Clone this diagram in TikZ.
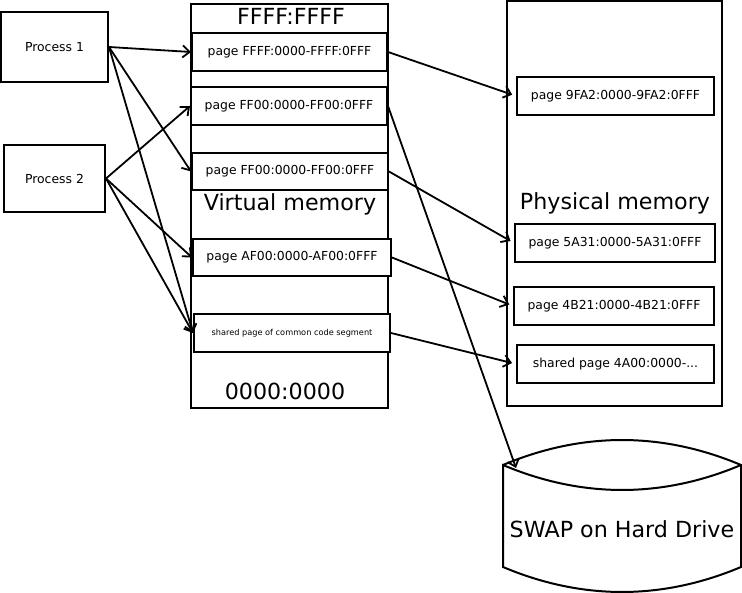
\documentclass[tikz,border=0pt]{standalone}
\usepackage{fontspec}
\setmainfont{DejaVu Sans}
\usetikzlibrary{arrows.meta}
\begin{document}
\begin{tikzpicture}[x=1pt,y=-1pt,
  box/.style={draw, line width=2pt, rectangle, inner sep=0pt, font=\fontsize{12.4}{14}\selectfont, align=center},
  big/.style={inner sep=0pt, anchor=base, font=\fontsize{22.2}{26}\selectfont},
  conn/.style={line width=1.8pt, -{Straight Barb[length=7pt,width=12pt]}},
  connr/.style={conn, shorten >=4pt}
]
\useasboundingbox (0,0) rectangle (742,593);
% processes
\node[box, minimum width=107pt, minimum height=70pt] (p1) at (54.5,47) {Process 1};
\node[box, minimum width=101pt, minimum height=67pt] (p2) at (54.5,178.5) {Process 2};
% virtual memory
\node[box, minimum width=197pt, minimum height=404pt] (vm) at (289.5,206) {};
\node[big] (vtop) at (291,25) {FFFF:FFFF};
\node[big] (vlab) at (290,211) {Virtual memory};
\node[big] (vbot) at (285,400) {0000:0000};
\node[box, fill=white, minimum width=195pt, minimum height=38pt] (vF) at (289.5,52) {page FFFF:0000-FFFF:0FFF};
\node[box, fill=white, minimum width=196pt, minimum height=38pt] (vA) at (289,106) {page FF00:0000-FF00:0FFF};
\node[box, fill=white, minimum width=196pt, minimum height=37pt] (vB) at (290,171.5) {page FF00:0000-FF00:0FFF};
\node[box, fill=white, minimum width=198pt, minimum height=37pt] (vC) at (292,257.5) {page AF00:0000-AF00:0FFF};
\node[box, fill=white, minimum width=196pt, minimum height=38pt, font=\fontsize{8.2}{10}\selectfont] (vS) at (292,333) {shared page of common code segment};
% physical memory
\node[box, minimum width=215pt, minimum height=405pt] (pm) at (614.5,203.5) {};
\node[big] (plab) at (615,210) {Physical memory};
\node[box, minimum width=197pt, minimum height=38pt] (m9) at (615.5,96) {page 9FA2:0000-9FA2:0FFF};
\node[box, minimum width=200pt, minimum height=38pt] (m5) at (615,243) {page 5A31:0000-5A31:0FFF};
\node[box, minimum width=200pt, minimum height=38pt] (m4) at (614,306) {page 4B21:0000-4B21:0FFF};
\node[box, minimum width=197pt, minimum height=38pt] (mS) at (615.5,364) {shared page 4A00:0000-...};
% swap cylinder
\draw[line width=2pt] (503,465) .. controls (582,431.7) and (662,431.7) .. (741,465)
  .. controls (662,498.3) and (582,498.3) .. (503,465) -- (503,567)
  .. controls (582,600.3) and (662,600.3) .. (741,567) -- (741,465);
\node[big] (swap) at (622,537) {SWAP on Hard Drive};
\coordinate (swapin) at (516,468);
% connectors
\draw[conn] (p1.east) -- (vF.west);
\draw[conn] (p1.east) -- (vB.west);
\draw[conn] (p1.east) -- (vS.west);
\draw[conn] (p2.east) -- (vA.west);
\draw[conn] (p2.east) -- (vC.west);
\draw[conn] (p2.east) -- (vS.west);
\draw[connr] (vF.east) -- (m9.west);
\draw[conn] (vA.east) -- (swapin);
\draw[connr] (vB.east) -- (m5.west);
\draw[connr] (vC.east) -- (m4.west);
\draw[connr] (vS.east) -- (mS.west);
\end{tikzpicture}
\end{document}
